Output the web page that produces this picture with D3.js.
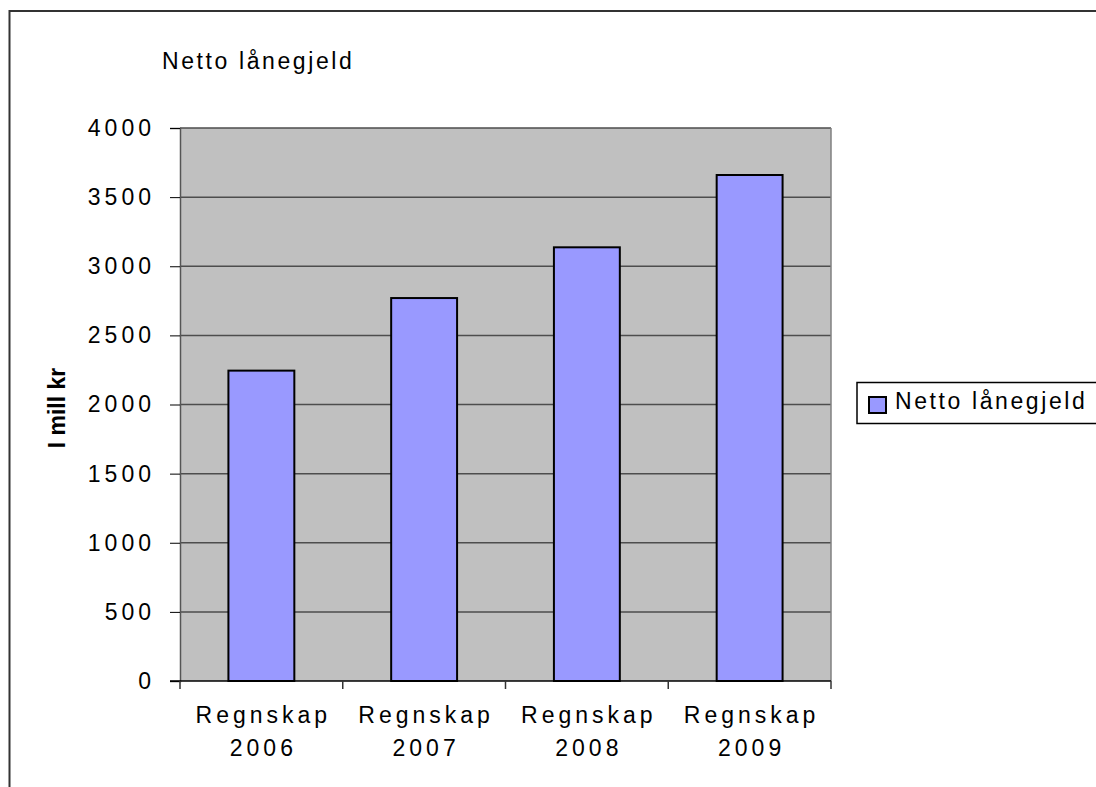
<!DOCTYPE html>
<html lang="no">
<head>
  <meta charset="UTF-8">
  <title>Netto lånegjeld</title>
  <style>
    html, body {
      margin: 0;
      background: #fff;
      overflow: hidden;
      width: 100%;
      height: 100%;
    }
    svg {
      position: absolute;
      top: 0;
      left: 0;
      font-family: "Liberation Sans", Arial, sans-serif;
    }
  </style>
</head>
<body>
  <svg width="1096" height="787"></svg>
</body>
<script src="https://d3js.org/d3.v7.min.js"></script>
<script type="text/javascript">
  const categories = [['Regnskap', '2006'], ['Regnskap', '2007'], ['Regnskap', '2008'], ['Regnskap', '2009']]
  const values = [2245, 2770, 3137, 3660]
  const yTicks = [0, 500, 1000, 1500, 2000, 2500, 3000, 3500, 4000]
  const seriesName = 'Netto lånegjeld'
  const yLabel = 'I mill kr'

  const svg = d3.select('svg')
  const plot = { left: 180, right: 831, top: 128, bottom: 681 }
  const fs = 23
  const spacing = 4

  // outer frame, runs off the right and bottom edge
  svg.append('rect')
    .attr('x', 9.5).attr('y', 11)
    .attr('width', 1200).attr('height', 900)
    .attr('fill', 'none')
    .attr('stroke', '#333')
    .attr('stroke-width', 2)

  const x = d3.scaleBand()
    .domain(categories.map(d => d[1]))
    .range([plot.left, plot.right])
    .padding(0)

  const y = d3.scaleLinear()
    .domain([0, 4000])
    .range([plot.bottom, plot.top])

  // plot background
  svg.append('rect')
    .attr('x', plot.left).attr('y', plot.top)
    .attr('width', plot.right - plot.left)
    .attr('height', plot.bottom - plot.top)
    .attr('fill', '#c0c0c0')

  // grid
  svg.selectAll('line.grid')
    .data(yTicks.filter(d => d > 0))
    .enter()
    .append('line')
    .attr('class', 'grid')
    .attr('x1', plot.left).attr('x2', plot.right)
    .attr('y1', d => y(d)).attr('y2', d => y(d))
    .attr('stroke', '#4d4d4d')
    .attr('stroke-width', 1.5)

  // right border of plot area
  svg.append('line')
    .attr('x1', plot.right).attr('x2', plot.right)
    .attr('y1', plot.top).attr('y2', plot.bottom)
    .attr('stroke', '#808080')
    .attr('stroke-width', 1.5)

  // bars
  const barW = x.bandwidth() * 0.405
  svg.selectAll('rect.bar')
    .data(values)
    .enter()
    .append('rect')
    .attr('class', 'bar')
    .attr('x', (d, i) => x(categories[i][1]) + (x.bandwidth() - barW) / 2)
    .attr('y', d => y(d))
    .attr('width', barW)
    .attr('height', d => plot.bottom - y(d))
    .attr('fill', '#9999ff')
    .attr('stroke', '#000')
    .attr('stroke-width', 2)

  // y axis
  const yAxis = svg.append('g')
    .attr('transform', 'translate(' + plot.left + ',0)')
    .call(d3.axisLeft(y).tickValues(yTicks).tickSize(10).tickPadding(0).tickFormat(d3.format('d')))
  yAxis.select('.domain').attr('stroke', '#555').attr('stroke-width', 1.5)
  yAxis.selectAll('.tick line').attr('stroke', '#000')
  yAxis.selectAll('.tick text')
    .attr('x', -29 + spacing)
    .attr('dy', '0.32em')
    .attr('font-size', fs)
    .attr('letter-spacing', spacing)
    .attr('fill', '#000')
    .attr('font-family', '"Liberation Sans", Arial, sans-serif')

  // x axis
  const xAxis = svg.append('g')
    .attr('transform', 'translate(0,' + plot.bottom + ')')
  xAxis.append('line')
    .attr('x1', plot.left - 10).attr('x2', plot.right)
    .attr('stroke', '#000').attr('stroke-width', 1.5)
  const xEdges = categories.map(d => x(d[1])).concat([plot.right])
  xAxis.selectAll('line.tick')
    .data(xEdges)
    .enter()
    .append('line')
    .attr('class', 'tick')
    .attr('x1', d => d).attr('x2', d => d)
    .attr('y1', 0).attr('y2', 8)
    .attr('stroke', '#333').attr('stroke-width', 1.5)

  const xLabels = xAxis.selectAll('text')
    .data(categories)
    .enter()
    .append('text')
    .attr('text-anchor', 'middle')
    .attr('font-size', fs)
    .attr('letter-spacing', spacing)
    .attr('fill', '#000')
  xLabels.append('tspan')
    .attr('x', d => x(d[1]) + x.bandwidth() / 2 + spacing / 2)
    .attr('y', 42)
    .text(d => d[0])
  xLabels.append('tspan')
    .attr('x', d => x(d[1]) + x.bandwidth() / 2 + spacing / 2)
    .attr('y', 75)
    .text(d => d[1])

  // y label
  svg.append('text')
    .attr('transform', 'translate(65,408) rotate(-90)')
    .attr('text-anchor', 'middle')
    .attr('font-size', fs)
    .attr('font-weight', 'bold')
    .attr('fill', '#000')
    .text(yLabel)

  // title
  svg.append('text')
    .attr('x', 162).attr('y', 69)
    .attr('font-size', fs)
    .attr('letter-spacing', 2.6)
    .attr('fill', '#000')
    .text(seriesName)

  // legend
  const legend = svg.append('g')
  legend.append('rect')
    .attr('x', 857).attr('y', 382.5)
    .attr('width', 300).attr('height', 41)
    .attr('fill', '#fff')
    .attr('stroke', '#000')
    .attr('stroke-width', 1.5)
  legend.append('rect')
    .attr('x', 869).attr('y', 397)
    .attr('width', 17).attr('height', 16)
    .attr('fill', '#9999ff')
    .attr('stroke', '#000')
    .attr('stroke-width', 2)
  legend.append('text')
    .attr('x', 895).attr('y', 409)
    .attr('font-size', fs)
    .attr('letter-spacing', 2.6)
    .attr('fill', '#000')
    .text(seriesName)
</script>
</html>
